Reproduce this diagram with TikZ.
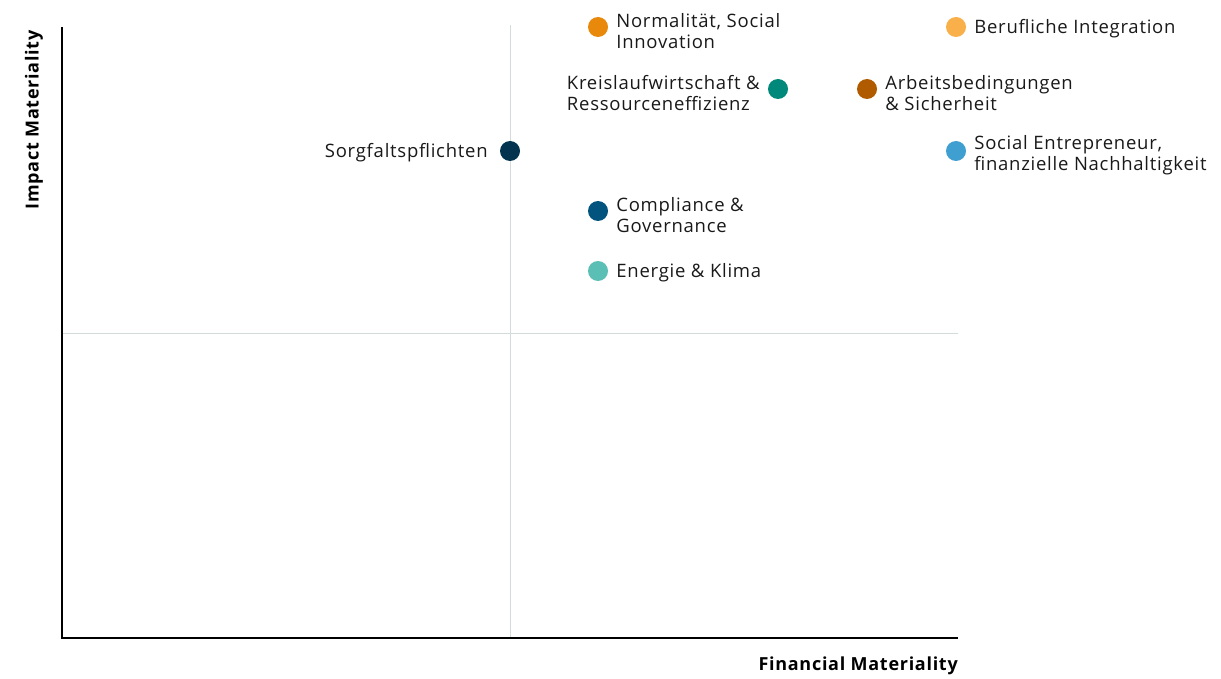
\documentclass[tikz,border=0pt]{standalone}
\usepackage{fontspec}
\setmainfont[LetterSpace=4]{Open Sans}
\usetikzlibrary{positioning}

\definecolor{cOrange}{HTML}{E8890C}
\definecolor{cLight}{HTML}{F9B04A}
\definecolor{cTeal}{HTML}{00897B}
\definecolor{cBrown}{HTML}{B15B00}
\definecolor{cNavy}{HTML}{04334F}
\definecolor{cSky}{HTML}{3F9FD0}
\definecolor{cBlue}{HTML}{02537E}
\definecolor{cMint}{HTML}{5CBFB6}
\definecolor{cGrid}{HTML}{D3DBDB}

\tikzset{
  dot/.style={circle, inner sep=0pt, minimum size=20pt},
  lbl/.style={inner sep=0pt, align=left, font=\fontsize{18.5}{21}\selectfont, text=black!90},
  axis/.style={line width=2pt, black},
  grid/.style={line width=1pt, cGrid},
  axlbl/.style={inner sep=0pt, font=\fontsize{18}{20}\selectfont\bfseries}
}

\begin{document}
\begin{tikzpicture}[x=1pt, y=-1pt]
  \useasboundingbox (0,0) rectangle (1221,679);

  % quadrant lines
  \coordinate (o) at (62,638);
  \coordinate (top) at (62,27);
  \coordinate (right) at (958,638);
  \coordinate (mt) at (510,25);
  \coordinate (mb) at (510,638);
  \coordinate (ml) at (62,333);
  \coordinate (mr) at (958,333);
  \draw[grid] (mt) -- (mb);
  \draw[grid] (ml) -- (mr);

  % axes
  \draw[axis] (top) -- (o) -- (right);
  \node[axlbl, rotate=90] (ylab) at (34,120) {Impact Materiality};
  \node[axlbl, anchor=east] (xlab) at (958,666) {Financial Materiality};

  % topics
  \node[dot, fill=cOrange] (d1) at (598,27) {};
  \node[lbl, right=8pt of d1, yshift=-4pt] (l1) {Normalität, Social\\Innovation};

  \node[dot, fill=cLight] (d2) at (956,27) {};
  \node[lbl, right=8pt of d2, yshift=-2pt] (l2) {Berufliche Integration};

  \node[dot, fill=cTeal] (d3) at (778,89) {};
  \node[lbl, left=8pt of d3, yshift=-4pt] (l3) {Kreislaufwirtschaft \&\\Ressourceneffizienz};

  \node[dot, fill=cBrown] (d4) at (867,89) {};
  \node[lbl, right=8pt of d4, yshift=-4pt] (l4) {Arbeitsbedingungen\\\& Sicherheit};

  \node[dot, fill=cNavy] (d5) at (510,151) {};
  \node[lbl, left=12pt of d5, yshift=-2pt] (l5) {Sorgfaltspflichten};

  \node[dot, fill=cSky] (d6) at (956,151) {};
  \node[lbl, right=8pt of d6, yshift=-4pt] (l6) {Social Entrepreneur,\\finanzielle Nachhaltigkeit};

  \node[dot, fill=cBlue] (d7) at (598,211) {};
  \node[lbl, right=8pt of d7, yshift=-4pt] (l7) {Compliance \&\\Governance};

  \node[dot, fill=cMint] (d8) at (598,271) {};
  \node[lbl, right=8pt of d8, yshift=-2pt] (l8) {Energie \& Klima};
\end{tikzpicture}
\end{document}
